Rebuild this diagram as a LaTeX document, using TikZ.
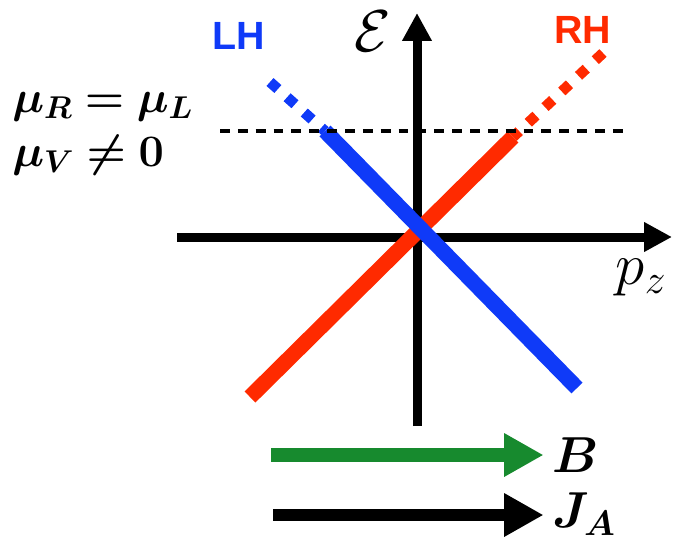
\documentclass[tikz,border=0pt]{standalone}
\usepackage{fix-cm}
\usepackage{amsmath,amssymb}
\usepackage{bm}
\usepackage{fontspec}
\newfontfamily\handfont{Liberation Sans}
\usetikzlibrary{arrows.meta, positioning}
\definecolor{cblue}{HTML}{0F3AF8}
\definecolor{cred}{HTML}{FF2A00}
\definecolor{cgreen}{HTML}{178A2E}

\begin{document}
\begin{tikzpicture}[
    x=0.025cm, y=-0.025cm,
    axis/.style={line width=6.4pt, -{Triangle[length=19.8pt, width=19.8pt]}},
    band/.style={line width=11pt},
    bandtail/.style={line width=7.5pt, dash pattern=on 7.5pt off 8.8pt},
    level/.style={line width=2.8pt, dash pattern=on 7pt off 5.7pt},
    field/.style={-{Triangle[length=28pt, width=29pt]}},
    hand/.style={font=\handfont\bfseries\fontsize{28}{30}\selectfont, inner sep=0pt},
    mathlbl/.style={font=\fontsize{32}{36}\selectfont, inner sep=0pt},
    biglbl/.style={font=\fontsize{42}{46}\selectfont, inner sep=1pt},
    fieldlbl/.style={font=\fontsize{36}{40}\selectfont, inner sep=0pt},
]
\useasboundingbox (0,0) rectangle (679,542);

% --- axes -------------------------------------------------------------
\coordinate (pleft)  at (177,237);
\coordinate (pright) at (672,237);
\coordinate (ebot)   at (417,426);
\coordinate (etop)   at (417,13);
\draw[axis] (pleft) -- (pright);
\draw[axis] (ebot) -- (etop);

\node[biglbl] (energy) at (373,31)  {$\mathcal{E}$};
\node[biglbl] (pz)     at (641,278) {$p_z$};

% --- right-handed branch (red) ---------------------------------------
\coordinate (rlow)  at (250,397);
\coordinate (rmid)  at (513,137);
\coordinate (rtop)  at (603,53);
\draw[band, cred] (rlow) -- (rmid);
\draw[bandtail, cred] (rtop) -- (rmid);

% --- left-handed branch (blue) ---------------------------------------
\coordinate (ltop)  at (270,82);
\coordinate (lmid)  at (325,131);
\coordinate (llow)  at (577,388);
\draw[bandtail, cblue] (ltop) -- (lmid);
\draw[band, cblue] (lmid) -- (llow);

% --- chemical potential level ----------------------------------------
\coordinate (muleft)  at (220,131);
\coordinate (muright) at (625,131);
\draw[level] (muleft) -- (muright);

\node[hand, text=cblue] (lh) at (239,36) {LH};
\node[hand, text=cred]  (rh) at (583,30) {RH};

\node[mathlbl, anchor=base west] (murl) at (12,112) {$\bm{\mu_R = \mu_L}$};
\node[mathlbl, anchor=base west] (muv)  at (12,166) {$\bm{\mu_V \neq 0}$};

% --- fields ------------------------------------------------------------
\node[fieldlbl, anchor=west] (bfield) at (552,455) {$\bm{B}$};
\node[fieldlbl, anchor=west] (jaxial) at (552,514) {$\bm{J_A}$};
\coordinate (bstart) at (271,455);
\coordinate (jstart) at (273,515);
\draw[field, cgreen, line width=10.6pt, shorten >=6pt] (bstart) -- (bfield.west);
\draw[field, black, line width=9.2pt, shorten >=6pt] (jstart) -- (jstart -| jaxial.west);

\end{tikzpicture}
\end{document}
